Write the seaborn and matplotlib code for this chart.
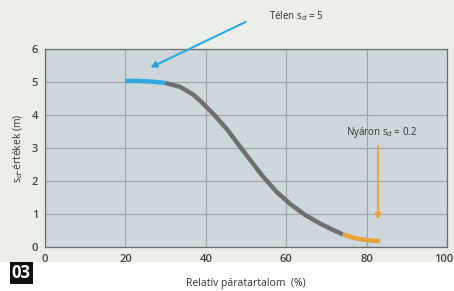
import matplotlib.pyplot as plt
import matplotlib.patches as mpatches
import matplotlib.transforms as mtransforms
import seaborn as sns
import pandas as pd

# curve, split into the three coloured parts
winter_x = [20, 22.5, 25, 27.5, 29.9]
winter_y = [5.03, 5.03, 5.02, 5.0, 4.97]
mid_x = [29.9, 33.6, 36.8, 38.6, 41.8, 45.3, 48.5, 51, 54.3, 57.6, 60.9, 64.7, 68, 70.9, 74.1]
mid_y = [4.97, 4.85, 4.62, 4.43, 4.04, 3.56, 3.04, 2.64, 2.12, 1.67, 1.31, 0.97, 0.74, 0.56, 0.38]
summer_x = [74.1, 77, 80, 83.3]
summer_y = [0.38, 0.27, 0.21, 0.18]

x_ticks = [0, 20, 40, 60, 80, 100]
y_ticks = [0, 1, 2, 3, 4, 5, 6]

sns.set_style('white')
plt.rcParams['font.family'] = ['Open Sans', 'DejaVu Sans']

fig = plt.figure(figsize=(4.54, 2.91), dpi=100, facecolor='white')
fig.patches.append(mpatches.Rectangle((0, 0.1), 1, 0.9, transform=fig.transFigure,
                                      facecolor='#eceee9', edgecolor='none', zorder=-10))
ax = fig.add_axes([0.099, 0.151, 0.886, 0.681])
ax.set_facecolor('#cdd6da')

blue = '#2ea6de'
grey = '#6f6f6f'
orange = '#e8a33a'

line_kw = dict(linewidth=3.2, solid_capstyle='butt', solid_joinstyle='round')
sns.lineplot(data=pd.DataFrame({'x': mid_x, 'y': mid_y}), x='x', y='y', ax=ax,
             color=grey, zorder=3, **line_kw)
sns.lineplot(data=pd.DataFrame({'x': winter_x, 'y': winter_y}), x='x', y='y', ax=ax,
             color=blue, zorder=4, **line_kw)
sns.lineplot(data=pd.DataFrame({'x': summer_x, 'y': summer_y}), x='x', y='y', ax=ax,
             color=orange, zorder=4, **line_kw)

ax.set_xlim(0, 100)
ax.set_ylim(0, 6)
ax.set_xticks(x_ticks)
ax.set_yticks(y_ticks)
ax.grid(True, color='#9fa5a7', linewidth=0.8)
ax.set_axisbelow(True)
ax.tick_params(length=0, labelsize=8, labelcolor='#444444', pad=5)
for lab in ax.get_xticklabels() + ax.get_yticklabels():
    lab.set_fontweight('semibold')
# keep the last x label inside the picture
last = ax.get_xticklabels()[-1]
last.set_horizontalalignment('right')
last.set_transform(last.get_transform() + mtransforms.ScaledTranslation(6 / 100, 0, fig.dpi_scale_trans))
for s in ax.spines.values():
    s.set_color('#6c6c6c')
    s.set_linewidth(0.9)

ax.set_xlabel('Relatív páratartalom  (%)', fontsize=7.5, color='#333333', labelpad=9)
ax.set_ylabel('s$_d$-értékek (m)', fontsize=7.5, color='#333333', labelpad=5)

ax.annotate('', xy=(25.6, 5.4), xytext=(50.5, 6.85), annotation_clip=False,
            arrowprops=dict(arrowstyle='-|>', color=blue, lw=1.5, mutation_scale=9))
ax.text(62.5, 7.0, 'Télen s$_d$ = 5', fontsize=7, color='#333333', ha='center', va='center',
        clip_on=False)

ax.annotate('', xy=(82.8, 0.75), xytext=(82.8, 3.15),
            arrowprops=dict(arrowstyle='-|>', color=orange, lw=1.3, mutation_scale=9))
ax.text(83.8, 3.48, 'Nyáron s$_d$ = 0.2', fontsize=7, color='#333333', ha='center', va='center')

fig.text(0.047, 0.062, '03', fontsize=12, color='white', fontweight='bold', ha='center',
         va='center', bbox=dict(boxstyle='square,pad=0.12', facecolor='#111111', edgecolor='none'))

plt.savefig('out.png', dpi=100, facecolor=fig.get_facecolor())
